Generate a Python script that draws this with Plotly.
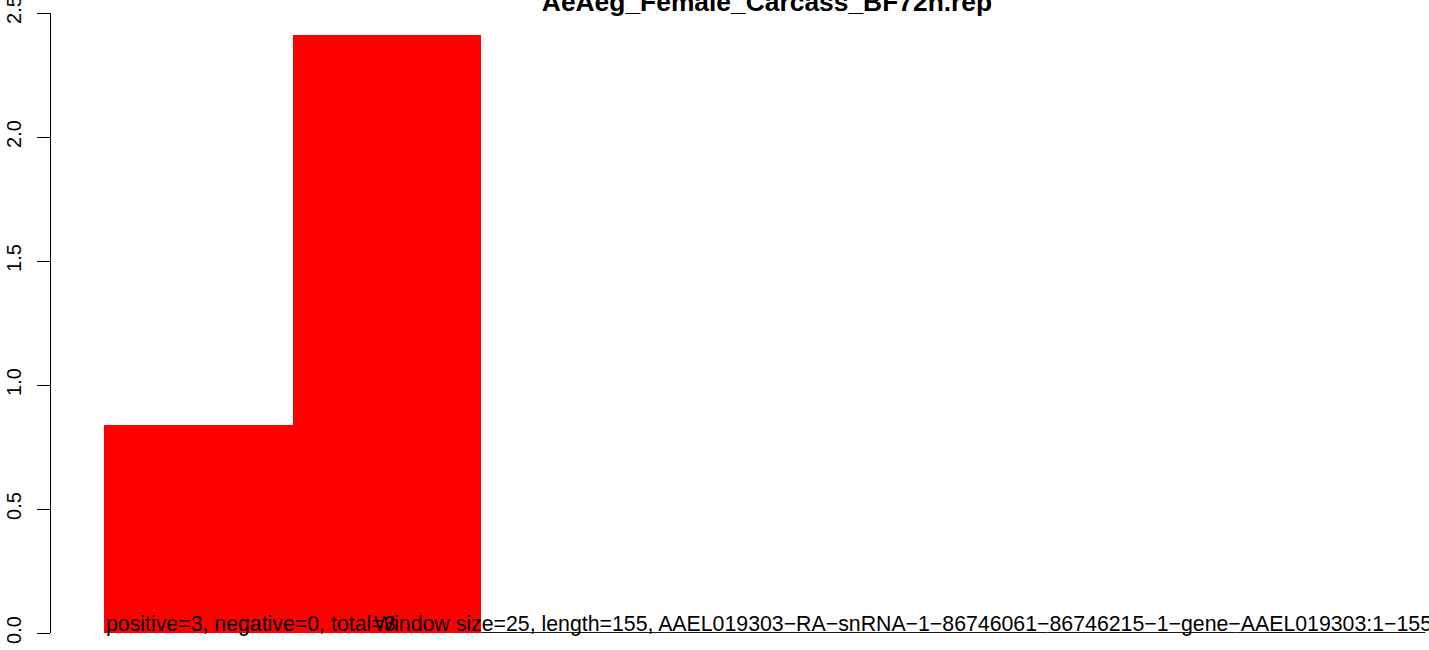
import plotly.graph_objects as go

# Sliding-window read profile for one snRNA locus
title_text = "AeAeg_Female_Carcass_BF72h.rep"
window_size = 25
seq_length = 155
window_starts = [0, 25, 50, 75, 100, 125, 150]
window_values = [0.84, 2.41, 0, 0, 0, 0, 0]
n_positive = 3
n_negative = 0
n_total = 3
locus_id = "AAEL019303\u2212RA\u2212snRNA\u22121\u221286746061\u221286746215\u22121\u2212gene\u2212AAEL019303:1\u2212155"
y_ticks = [0.0, 0.5, 1.0, 1.5, 2.0, 2.5]
y_tick_text = ["0.0", "0.5", "1.0", "1.5", "2.0", "2.5"]

FONT = "Liberation Sans, Arial, Helvetica, sans-serif"
x_end = len(window_starts) * window_size  # 175

fig = go.Figure()

# Windows with reads: solid red bars, no outline
nz_x = [s + window_size / 2 for s, v in zip(window_starts, window_values) if v > 0]
nz_y = [v for v in window_values if v > 0]
fig.add_trace(go.Bar(
    x=nz_x, y=nz_y, width=[window_size] * len(nz_x),
    marker=dict(color="#FF0000", line=dict(width=0)),
    hoverinfo="skip", showlegend=False,
))

# Empty windows collapse to a flat outline along zero
zx, zy = [], []
for s, v in zip(window_starts, window_values):
    if v == 0:
        zx += [s, s + window_size, None]
        zy += [0, 0, None]
fig.add_trace(go.Scatter(
    x=zx, y=zy, mode="lines",
    line=dict(color="#1a1a1a", width=2),
    hoverinfo="skip", showlegend=False,
))

# Footer labels sitting on the zero baseline
fig.add_annotation(
    x=0, y=0, xref="x", yref="y",
    text=f"positive={n_positive}, negative={n_negative}, total={n_total}",
    showarrow=False, xanchor="left", yanchor="bottom", yshift=-5,
    font=dict(family=FONT, size=21.3, color="black"),
)
fig.add_annotation(
    x=x_end, y=0, xref="x", yref="y",
    text=f"Window size={window_size}, length={seq_length}, {locus_id}",
    showarrow=False, xanchor="right", yanchor="bottom", yshift=-5, xshift=9,
    font=dict(family=FONT, size=21.3, color="black"),
)

fig.update_layout(
    width=1429, height=650,
    margin=dict(l=51, r=0, t=13, b=17),
    paper_bgcolor="white", plot_bgcolor="white",
    bargap=0,
    title=dict(
        text=title_text, x=767 / 1429, xanchor="center",
        xref="container", yref="container", y=1 - 11 / 650, yanchor="bottom",
        font=dict(family=FONT, size=26.4, color="black", weight="bold"),
    ),
    xaxis=dict(
        range=[-7, x_end + 0.5], visible=False, fixedrange=True,
    ),
    yaxis=dict(
        range=[0, 2.5], tickvals=y_ticks, ticktext=y_tick_text,
        ticks="outside", ticklen=13, tickwidth=1, tickcolor="black",
        showline=True, linecolor="black", linewidth=1,
        showgrid=False, zeroline=False, tickangle=-90,
        ticklabeloverflow="allow", ticklabelstandoff=8,
        tickfont=dict(family=FONT, size=20, color="black"),
        automargin=False, fixedrange=True,
    ),
    showlegend=False,
)

fig.write_html("out.html")
